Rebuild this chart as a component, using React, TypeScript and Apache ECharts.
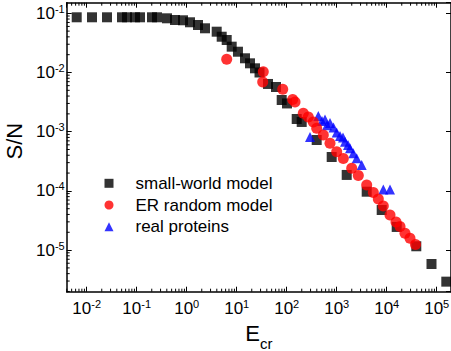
import React, { useEffect, useRef } from 'react';
import * as echarts from 'echarts';

// [E_cr, S/N]
const smallWorld: number[][] = [
  [0.00631, 0.0856], [0.01276, 0.0856], [0.02547, 0.0856], [0.0508, 0.0856], [0.064, 0.0856],
  [0.0925, 0.0856], [0.1164, 0.0856], [0.2023, 0.0856], [0.2547, 0.0856], [0.4036, 0.0823],
  [0.583, 0.0771], [0.843, 0.0762], [1.164, 0.0705], [1.683, 0.0634], [2.323, 0.0558],
  [3.98, 0.0489], [5.01, 0.0402], [6.31, 0.0354], [7.94, 0.0273], [10.6, 0.02244],
  [14.66, 0.01738], [18.45, 0.01429], [23.2, 0.01177], [28.6, 0.01], [42.3, 0.0064],
  [61.1, 0.00569], [79.4, 0.00343], [101.4, 0.003], [158.5, 0.00164], [199.5, 0.00146],
  [398, 0.000724], [794, 0.000374], [1585, 0.000186], [3981, 0.0000969], [7943, 0.0000475],
  [15850, 0.0000246], [39080, 0.0000116], [78700, 0.00000582], [155600, 0.00000293],
];

const erRandom: number[][] = [
  [6.31, 0.01671], [34.0, 0.01031], [33.1, 0.00691], [83.2, 0.0052], [131.8, 0.0035],
  [146.6, 0.00318], [214.8, 0.00205], [270.4, 0.00177], [340.4, 0.00146], [398, 0.00114],
  [539.5, 0.000879], [734.5, 0.000637], [1000, 0.000459], [1355, 0.000353], [1995, 0.000241],
  [2704, 0.000182], [3981, 0.000126], [5395, 0.000094], [6792, 0.000073], [8551, 0.0000556],
  [11640, 0.0000392], [15350, 0.0000298], [18450, 0.0000251], [23230, 0.0000192],
  [29240, 0.0000158], [37670, 0.00001245],
];

const realProteins: number[][] = [
  [292.4, 0.000814], [428.5, 0.00184], [508, 0.00151], [583.4, 0.001607], [639.7, 0.00129],
  [734.5, 0.001402], [863, 0.001177], [1000, 0.000969], [1164, 0.000845], [1337, 0.000798],
  [1466, 0.000678], [1682, 0.000596], [1845, 0.000525], [2148, 0.000432], [2512, 0.000356],
  [3162, 0.000274], [8551, 0.0001057], [11640, 0.0001057],
];

const seriesNames = ['small-world model', 'ER random model', 'real proteins'];
const xDecades = [-3, -2, -1, 0, 1, 2, 3, 4, 5];
const yDecades = [-6, -5, -4, -3, -2, -1];
const minorMultipliers = [2, 3, 4, 5, 6, 7, 8, 9];

const X_MIN = 0.00398;
const X_MAX = 193200;
const Y_MIN = 1.982e-6;
const Y_MAX = 0.151;

const FONT = '"Liberation Sans", Arial, sans-serif';

export default function App() {
  const ref = useRef<HTMLDivElement>(null);
  useEffect(() => {
    if (!ref.current) return;
    const chart = echarts.init(ref.current, undefined, { renderer: 'svg' });

    const minorData: number[][] = [];
    xDecades.forEach((d) =>
      minorMultipliers.forEach((m) => {
        const v = m * Math.pow(10, d);
        if (v > X_MIN && v < X_MAX) minorData.push([v, Y_MIN, 0]);
      })
    );
    yDecades.forEach((d) =>
      minorMultipliers.forEach((m) => {
        const v = m * Math.pow(10, d);
        if (v > Y_MIN && v < Y_MAX) minorData.push([X_MIN, v, 1]);
      })
    );

    const powLabel = (v: number) => {
      const e = Math.round(Math.log10(v));
      return `{b|10}{s|${e}}`;
    };
    const labelRich = {
      b: { fontSize: 17, fontFamily: FONT, color: '#000', lineHeight: 20 },
      s: { fontSize: 11, fontFamily: FONT, color: '#000', verticalAlign: 'top' as const, lineHeight: 11 },
    };

    const axisCommon = {
      type: 'log' as const,
      logBase: 10,
      axisLine: { show: true, lineStyle: { color: '#000', width: 1.5 } },
      axisTick: { show: true, inside: true, length: 5, lineStyle: { color: '#000', width: 1 } },
      splitLine: { show: false },
      minorTick: { show: false },
    };

    chart.setOption({
      animation: false,
      backgroundColor: '#fff',
      textStyle: { fontFamily: FONT },
      grid: {
        left: 66.7,
        top: 2.7,
        right: 0,
        bottom: 59.3,
        containLabel: false,
        outerBoundsMode: 'none',
      },
      legend: {
        orient: 'vertical',
        left: 104.5,
        top: 173.3,
        padding: 0,
        itemWidth: 9,
        itemHeight: 9,
        itemGap: 1.7,
        data: seriesNames,
        textStyle: { fontSize: 17, color: '#000', fontFamily: FONT, lineHeight: 20, padding: [0, 0, 0, 17] },
      },
      xAxis: [
        {
          ...axisCommon,
          position: 'bottom',
          min: X_MIN,
          max: X_MAX,
          name: '{e|E}{c|cr}',
          nameLocation: 'middle',
          nameGap: 24,
          nameTextStyle: {
            rich: {
              e: { fontSize: 22, fontFamily: FONT, color: '#000', verticalAlign: 'top' },
              c: { fontSize: 15, fontFamily: FONT, color: '#000', verticalAlign: 'top', padding: [14, 0, 0, 0] },
            },
          },
          axisLabel: {
            formatter: powLabel,
            rich: labelRich,
            margin: 7,
            showMinLabel: false,
            showMaxLabel: false,
          },
        },
        {
          ...axisCommon,
          position: 'top',
          min: X_MIN,
          max: X_MAX,
          axisLabel: { show: false },
        },
      ],
      yAxis: [
        {
          ...axisCommon,
          position: 'left',
          min: Y_MIN,
          max: Y_MAX,
          name: 'S/N',
          nameLocation: 'middle',
          nameGap: 38,
          nameTextStyle: { fontSize: 22, fontFamily: FONT, color: '#000', padding: [0, 0, 0, 12] },
          axisLabel: {
            formatter: powLabel,
            rich: labelRich,
            margin: 2,
            showMinLabel: false,
            showMaxLabel: false,
          },
        },
        {
          ...axisCommon,
          position: 'right',
          min: Y_MIN,
          max: Y_MAX,
          axisLabel: { show: false },
        },
      ],
      series: [
        {
          type: 'custom',
          silent: true,
          xAxisIndex: 0,
          yAxisIndex: 0,
          clip: false,
          z: 5,
          data: minorData,
          renderItem: (params: any, api: any) => {
            const kind = api.value(2);
            const style = { stroke: '#000', lineWidth: 1 };
            if (kind === 0) {
              const v = api.value(0);
              const b = api.coord([v, Y_MIN]);
              const t = api.coord([v, Y_MAX]);
              return {
                type: 'group',
                children: [
                  { type: 'line', shape: { x1: b[0], y1: b[1], x2: b[0], y2: b[1] - 3 }, style },
                  { type: 'line', shape: { x1: t[0], y1: t[1], x2: t[0], y2: t[1] + 3 }, style },
                ],
              };
            }
            const w = api.value(1);
            const l = api.coord([X_MIN, w]);
            return {
              type: 'group',
              children: [{ type: 'line', shape: { x1: l[0], y1: l[1], x2: l[0] + 3, y2: l[1] }, style }],
            };
          },
        },
        {
          name: seriesNames[0],
          type: 'scatter',
          symbol: 'rect',
          symbolSize: 10,
          itemStyle: { color: '#000000' },
          data: smallWorld,
          z: 2,
        },
        {
          name: seriesNames[2],
          type: 'scatter',
          symbol: 'triangle',
          symbolSize: 10,
          itemStyle: { color: '#0000ff' },
          data: realProteins,
          z: 3,
        },
        {
          name: seriesNames[1],
          type: 'scatter',
          symbol: 'circle',
          symbolSize: 11,
          itemStyle: { color: '#ff0000' },
          data: erRandom,
          z: 4,
        },
      ],
    });
    return () => chart.dispose();
  }, []);
  return <div ref={ref} style={{ position: 'absolute', left: 0, top: 0, width: 451, height: 351 }} />;
}
